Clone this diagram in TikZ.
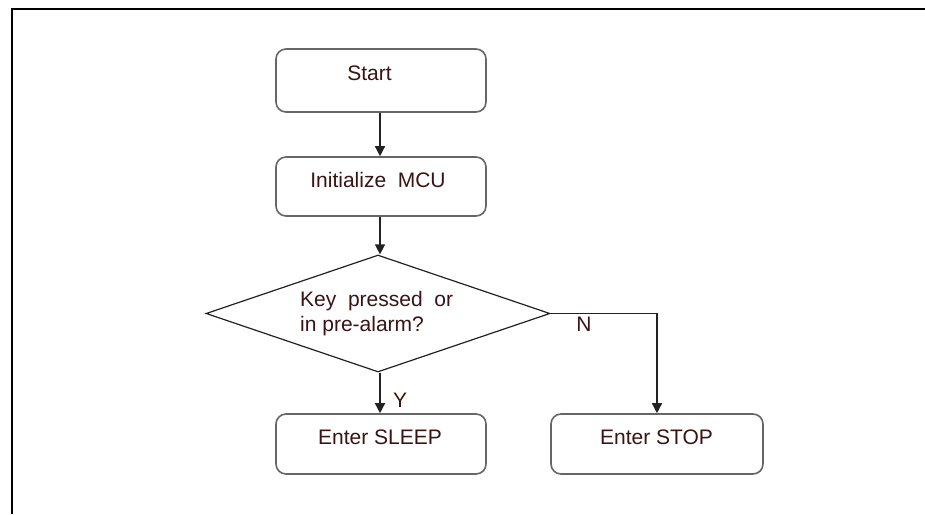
\documentclass[tikz,border=0pt]{standalone}
\usepackage{fontspec}
\setmainfont{Liberation Sans}
\usetikzlibrary{shapes.geometric,arrows.meta}
\definecolor{boxline}{HTML}{666666}
\definecolor{flowline}{HTML}{222222}
\definecolor{ink}{HTML}{3A1414}
\tikzset{
  stepbox/.style={draw=boxline, line width=1.6pt, rounded corners=10pt,
    minimum width=210pt, minimum height=60pt, inner sep=0pt, fill=white},
  decision/.style={draw=flowline, line width=1.2pt, diamond,
    minimum width=344pt, minimum height=117pt, inner sep=0pt},
  txt/.style={text=ink, font=\fontsize{21}{25}\selectfont, inner sep=0pt},
  flow/.style={draw=flowline, line width=1.4pt,
    -{Triangle[length=10pt, width=10pt]}},
  frameline/.style={line width=2.4pt, black}
}
\begin{document}
\begin{tikzpicture}[x=1pt, y=-1pt]
  \useasboundingbox (0,0) rectangle (925,514);
  \fill[white] (0,0) rectangle (925,514);

  % outer frame (open to the right and bottom)
  \draw[frameline] (925,9) -- (12,9) -- (12,514);

  % process boxes
  \node[stepbox, minimum height=63pt] (start) at (381,80.5) {};
  \node[stepbox, minimum height=59pt] (init) at (381,186.5) {};
  \node[decision] (key) at (378,313.5) {};
  \node[stepbox] (sleep) at (381,444) {};
  \node[stepbox, minimum width=212pt] (stop) at (657,444) {};

  % box texts
  \node[txt] (tstart) at (369.5,73) {Start};
  \node[txt] (tinit) at (378,180) {Initialize~ MCU};
  \node[txt, align=left, anchor=west] (tkey) at (300,314)
    {Key~ pressed~ or\\in pre-alarm?};
  \node[txt] (tsleep) at (380,437) {Enter SLEEP};
  \node[txt] (tstop) at (656.5,437) {Enter STOP};

  % connectors
  \coordinate (turn) at (657,313.5);
  \draw[flow] (start.south -| 380,0) -- (init.north -| 380,0);
  \draw[flow] (init.south -| 380,0) -- (key.north -| 380,0);
  \draw[flow] (key.south -| 380,0) -- (sleep.north -| 380,0);
  \draw[flow] (key.east) -- (turn) -- (stop.north);

  % branch labels
  \node[txt] (ylab) at (400,400) {Y};
  \node[txt] (nlab) at (584,324) {N};
\end{tikzpicture}
\end{document}
